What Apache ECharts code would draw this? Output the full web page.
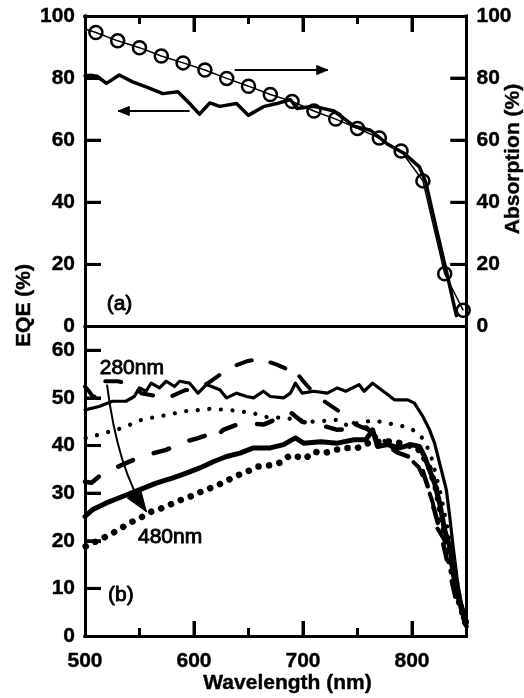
<!DOCTYPE html>
<html><head><meta charset="utf-8">
<script src="https://cdn.jsdelivr.net/npm/echarts@6/dist/echarts.min.js"></script>
<style>html,body{margin:0;padding:0;background:#fff}#c{width:524px;height:698px}</style>
</head><body><div id="c"></div>
<script>
// ---------- DATA ----------
const xTickLabels = [500, 600, 700, 800];
const xMajorTicks = [600, 700, 800];
const xMinorTicks = [550, 650, 750];
const topYTicks = [0, 20, 40, 60, 80, 100];
const bottomYTicks = [0, 10, 20, 30, 40, 50, 60];

// (a) EQE (left axis)
const eqeTop = [[500,80.7],[505,80.9],[511,80.6],[519.7,78.3],[531.4,81],[543.7,78.8],[556,77.2],[571.4,75],[585.2,75.6],[596,71.8],[605,68.4],[614.5,72],[623.7,70.9],[639,71.8],[649.8,68],[663.7,70.8],[676,71.8],[688.4,73.1],[694.5,70.2],[710,70.9],[728.4,69.4],[746.8,64.5],[762,63.2],[777.6,58.7],[793,55.7],[806.8,51.4],[812.6,46.5],[822,32],[832.8,15.9],[840.7,3.5]];
// (a) Absorption (right axis) circles
const absWl  = [510,530,550,570,590,610,630,650,670,690,710,730,750,770,790,810,830,847];
const absVal = [94.7,92,89.8,87.1,84.9,82.6,79.9,77.4,74.7,72.5,69.4,66.8,63.8,60.7,56.5,46.9,17,5.2];
const absLineStart = [500, 95.8];

// (b) EQE for excitation 280nm ... 480nm
const bDash1 = [[500,52.4],[503.7,51.4],[508,50],[516,53.5],[530,53.5],[543.7,52.8],[551.4,51],[563,50.5],[576,50],[591.4,51.6],[603,52],[612.9,53.1],[628.3,55.6],[638,56.8],[648.4,57.7],[655,58],[660.7,58.4],[666.8,57.7],[676,57],[686.8,55.9],[689.9,56.5],[699.2,53.8],[708,51.5],[717.6,49.6],[733,47.2],[748.4,44.4],[758,43.5],[768.4,42.3],[777,40.5],[786.8,38.7],[799.2,37],[806,35.5],[813,32.1],[819.2,27.9],[822.3,23],[833.1,18.8],[840,10],[849,2]];
const bSolid1 = [[500,47.5],[512.9,48.2],[525.2,49.3],[537.6,49.3],[545.2,50.3],[549.9,52.1],[556,51.4],[560.7,53.1],[568.3,52.1],[574.5,53.5],[582.2,52.4],[586.8,53.5],[596,53.1],[603.7,51],[611.4,52.8],[623.7,51.7],[629.9,50],[639.1,51],[648.4,50.3],[654.5,50],[663.7,51.4],[670,50.3],[682.2,50],[688.4,51],[693,53.1],[699.2,51],[709.9,51.4],[722.3,51],[731.5,52.1],[739.2,51.4],[751.5,52.8],[756.1,51.4],[763.8,53.1],[776.1,51],[783.8,49.6],[796.1,49.6],[802.2,48.9],[810,46.1],[816.1,43.3],[820.7,40.5],[823.8,37.7],[826.9,34.9],[831.5,30.7],[834.6,25.1],[837.7,18.8],[842,11],[846,6],[850,2.5]];
const bDot1 = [[500.6,41.6],[512.9,42.3],[534.4,43.7],[552.9,45.5],[565.3,46],[577.6,46.5],[589.9,47.2],[602.2,47.4],[614.5,47.7],[629.9,47.5],[642.2,47.2],[654.5,46.8],[666.8,46],[682.2,45.8],[709.9,45],[731.5,45.4],[742.2,44],[750,44.7],[762.3,45.2],[771.5,45],[783.8,44.4],[793,44],[800.8,43.3],[808.4,41.9],[813,40.2],[817.6,37.7],[822.3,33.5],[826.9,29.3],[831.5,23.7],[836.1,18.8],[843,9],[850,2]];
const bDash2 = [[500,32.4],[506,32.2],[512.9,33.5],[525,35],[537.6,36.3],[551.4,37.7],[563,38.4],[574.5,39.1],[591.4,40.8],[603,41.5],[612.9,42.3],[617.6,41.2],[626.8,43.3],[637,44.2],[648.4,44.7],[663.7,44.4],[675,45.5],[683.8,46.8],[688.4,47],[699.2,45],[714.5,44.4],[731.5,43.3],[748.4,43.5],[758,43.8],[768.4,41.5],[777,40],[786.8,38.5],[799.2,37.5],[808,36],[815,31],[821,26],[827,21],[833,15],[840,8],[850,2]];
const bSolid2 = [[500,25.1],[506.7,26.5],[519.1,27.9],[534.4,29.3],[549.9,30.7],[565.3,32.1],[580.7,33.2],[593,34.2],[605.3,35.3],[617.6,36.6],[629.9,37.7],[642.2,38.4],[654.5,39.5],[669.9,39.5],[682.2,40.2],[693,41.6],[700.6,40.5],[716.1,40.8],[731.5,40.5],[746.8,41.2],[757.6,41.2],[763.8,43.3],[768.4,39.8],[777.6,40.2],[788.4,39.5],[799.2,40.2],[806.8,39.8],[811.5,37.7],[816.1,34.9],[820.7,32.1],[825.3,27.9],[829.9,22.3],[834.6,18.8],[840,10],[850,3]];
const bDot2 = [[500.6,18.8],[511.4,20],[522.2,21.2],[531.4,22.4],[540.6,23.7],[549.9,24.7],[560.7,26.1],[569.9,26.8],[579.1,27.7],[588.4,28.6],[599.1,29.5],[608.3,30.5],[619.1,31.4],[628.3,32.4],[637.6,33.5],[648.4,34.5],[659.1,35.6],[671.5,35.9],[679.1,36.4],[688.4,38],[702.2,37.3],[709.9,38.7],[719.1,38.4],[729.9,39.1],[740.7,39.5],[750,39.5],[760,40.5],[775,41],[790,40.5],[805,39.5],[815,36],[822,31],[828,24],[834,16],[842,8],[850,2]];

// annotation anchors (data units)
const arrowRightA = [[637.3,82.6],[722.7,82.6]];
const arrowLeftA  = [[596,69.4],[530.5,69.4]];
const curvedArrowB = {start:[520.2,52.8], ctrl:[530,34.9], end:[556.3,26.1]};
const labelA = [519.9, 7.3];
const labelB = [521.1, 8.6];
const label280 = [513.5, 56.3];
const label480 = [548.6, 20.7];

// ---------- CHART ----------
const FF = '"Liberation Sans", Arial, Helvetica, sans-serif';
function axisFont() { return {fontFamily: FF, fontWeight: 'bold', fontSize: 21, color: '#000', textBorderColor: '#000', textBorderWidth: 0.4}; }
const chart = echarts.init(document.getElementById('c'), null, {renderer: 'canvas'});

function frameLine() { return {show: true, onZero: false, lineStyle: {color: '#000', width: 3, cap: 'square'}}; }
function tick(len) {
  return len > 0 ? {show: true, inside: true, length: len, lineStyle: {color: '#000', width: 3}} : {show: false};
}
function xAx(grid, pos, interval, len, labels) {
  return {
    gridIndex: grid, type: 'value', min: 500, max: 850, interval: interval, position: pos,
    axisLine: frameLine(),
    axisTick: tick(len),
    axisLabel: labels ? Object.assign({show: true, margin: 15, showMaxLabel: false,
      formatter: v => xTickLabels.indexOf(v) >= 0 ? String(v) : ''}, axisFont()) : {show: false},
    splitLine: {show: false}
  };
}
function yAx(grid, pos, max, interval, ticks, len, showLabels) {
  return {
    gridIndex: grid, type: 'value', min: 0, max: max, interval: interval, position: pos,
    axisLine: frameLine(),
    axisTick: tick(len),
    axisLabel: showLabels ? Object.assign({show: true, margin: 10, showMaxLabel: max === 100,
      formatter: v => ticks.indexOf(v) >= 0 ? String(v) : ''}, axisFont()) : {show: false},
    splitLine: {show: false}
  };
}
function lineS(data, xi, yi, width, type) {
  return {
    type: 'line', xAxisIndex: xi, yAxisIndex: yi, data: data, symbol: 'none',
    lineStyle: {color: '#000', width: width, type: type || 'solid', cap: 'round', join: 'round'},
    silent: true, z: 3
  };
}

const absData = [{value: absLineStart, symbol: 'none'}].concat(absWl.map((w, i) => [w, absVal[i]]));

const option = {
  animation: false,
  backgroundColor: '#fff',
  grid: [
    {left: 85, right: 57.5, top: 16, height: 310.5, show: false},
    {left: 85, right: 57.5, top: 326.5, height: 309.5, show: false}
  ],
  xAxis: [
    xAx(0, 'top', 100, 16, false),
    xAx(0, 'top', 50, 8, false),
    xAx(1, 'bottom', 100, 15, true),
    xAx(1, 'bottom', 50, 8, false),
    xAx(1, 'top', 100, 0, false)
  ],
  yAxis: [
    yAx(0, 'left', 100, 20, topYTicks, 16, true),
    yAx(0, 'right', 100, 20, topYTicks, 16, true),
    yAx(1, 'left', 65, 10, bottomYTicks, 16, true),
    yAx(1, 'right', 65, 10, bottomYTicks, 0, false)
  ],
  series: [
    lineS(eqeTop, 0, 0, 3.5),
    {
      type: 'line', xAxisIndex: 0, yAxisIndex: 1, data: absData,
      symbol: 'circle', symbolSize: 13,
      lineStyle: {color: '#000', width: 1.5},
      itemStyle: {color: 'rgba(0,0,0,0)', borderColor: '#000', borderWidth: 2.5},
      silent: true, z: 4
    },
    lineS(bDash1, 2, 2, 4, [16, 20]),
    lineS(bSolid1, 2, 2, 3.2),
    lineS(bDot1, 2, 2, 4.2, [0.1, 11.5]),
    lineS(bDash2, 2, 2, 4.5, [16, 22]),
    lineS(bSolid2, 2, 2, 5),
    lineS(bDot2, 2, 2, 6.5, [0.1, 10.5])
  ]
};
chart.setOption(option);

// ---------- TICKS & ANNOTATIONS (positioned via the chart's own scales) ----------
const PA = p => chart.convertToPixel({xAxisIndex: 0, yAxisIndex: 0}, p);
const PB = p => chart.convertToPixel({xAxisIndex: 2, yAxisIndex: 2}, p);

const g = [];
function seg(a, b) {
  g.push({type: 'line', silent: true, z: 50, shape: {x1: a[0], y1: a[1], x2: b[0], y2: b[1]},
    style: {stroke: '#000', lineWidth: 3}});
}
// inward ticks (duplicate the axis ticks so they always show)
xMajorTicks.forEach(v => { const p = PA([v, 100]); seg(p, [p[0], p[1] + 16]); });
xMinorTicks.forEach(v => { const p = PA([v, 100]); seg(p, [p[0], p[1] + 8]); });
topYTicks.filter(v => v > 0 && v < 100).forEach(v => {
  const l = PA([500, v]); seg(l, [l[0] + 16, l[1]]);
  const r = PA([850, v]); seg(r, [r[0] - 16, r[1]]);
});
xMajorTicks.forEach(v => { const p = PB([v, 0]); seg(p, [p[0], p[1] - 15]); });
xMinorTicks.forEach(v => { const p = PB([v, 0]); seg(p, [p[0], p[1] - 8]); });
bottomYTicks.filter(v => v > 0).forEach(v => { const l = PB([500, v]); seg(l, [l[0] + 16, l[1]]); });

function txt(x, y, text, opts) {
  return Object.assign({
    type: 'text', x: x, y: y, silent: true, z: 100,
    style: Object.assign({text: text, fill: '#000', font: 'bold 21px ' + FF, stroke: '#000', lineWidth: 0.4,
      align: 'center', verticalAlign: 'middle', textAlign: 'center', textVerticalAlign: 'middle'}, opts && opts.style || {})
  }, opts && opts.el || {});
}
function head(tip, dir, len, hw) {
  const n = Math.hypot(dir[0], dir[1]); const ux = dir[0] / n, uy = dir[1] / n;
  const bx = tip[0] - ux * len, by = tip[1] - uy * len;
  return {type: 'polygon', silent: true, z: 100,
    shape: {points: [tip, [bx - uy * hw, by + ux * hw], [bx + uy * hw, by - ux * hw]]},
    style: {fill: '#000', stroke: '#000', lineWidth: 1}};
}
function straightArrow(a, b) {
  return [
    {type: 'line', silent: true, z: 100, shape: {x1: a[0], y1: a[1], x2: b[0], y2: b[1]}, style: {stroke: '#000', lineWidth: 2}},
    head(b, [b[0] - a[0], b[1] - a[1]], 11, 4.5)
  ];
}

const r0 = PA(arrowRightA[0]), r1 = PA(arrowRightA[1]);
const l0 = PA(arrowLeftA[0]), l1 = PA(arrowLeftA[1]);
g.push(...straightArrow(r0, r1), ...straightArrow(l0, l1));
const cs = PB(curvedArrowB.start), cc = PB(curvedArrowB.ctrl), ce = PB(curvedArrowB.end);
g.push({type: 'bezierCurve', silent: true, z: 100,
  shape: {x1: cs[0], y1: cs[1], x2: ce[0], y2: ce[1], cpx1: cc[0], cpy1: cc[1]},
  style: {stroke: '#000', lineWidth: 2, fill: null}});
g.push(head(ce, [ce[0] - cc[0], ce[1] - cc[1]], 22, 8));

const pa = PA(labelA), pb = PB(labelB), p280 = PB(label280), p480 = PB(label480);
const annStyle = {style: {align: 'left', textAlign: 'left', font: '21px ' + FF, stroke: '#000', lineWidth: 0.9}};
g.push(txt(pa[0], pa[1], '(a)', annStyle));
g.push(txt(pb[0], pb[1], '(b)', annStyle));
g.push(txt(p280[0], p280[1], '280nm', annStyle));
g.push(txt(p480[0], p480[1], '480nm', annStyle));

// axis titles
g.push(txt(24, 305.5, 'EQE (%)', {el: {rotation: Math.PI / 2}}));
g.push(txt(513.5, 159, 'Absorption (%)', {el: {rotation: Math.PI / 2}}));
g.push(txt(287.5, 683, 'Wavelength (nm)'));

chart.setOption({graphic: {elements: g}});
</script>
</body></html>
